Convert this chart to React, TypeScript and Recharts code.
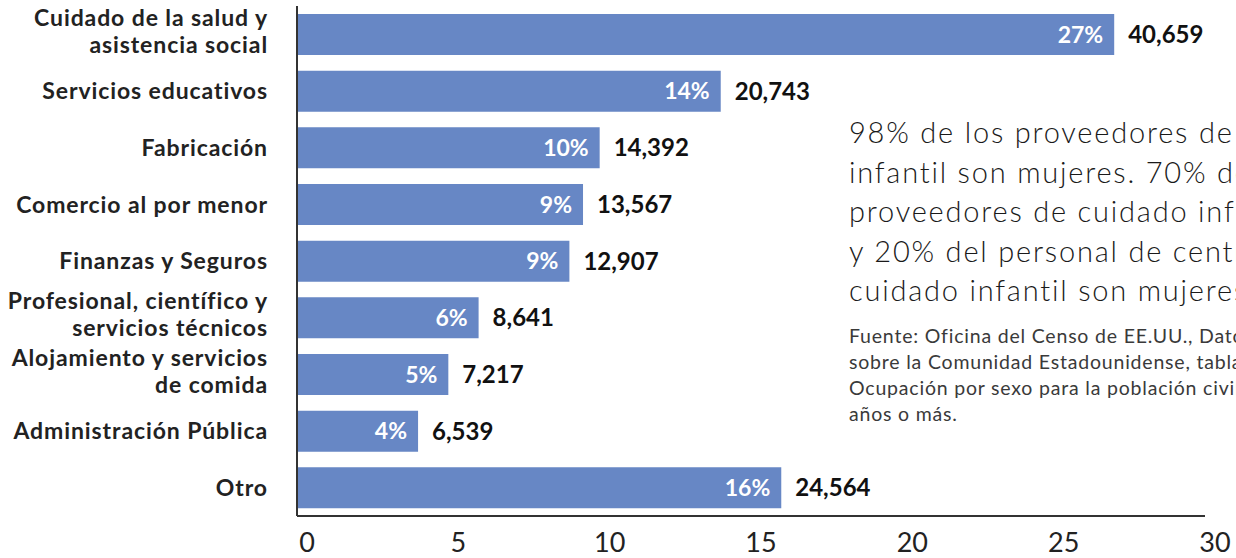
import { BarChart, Bar, XAxis, YAxis, LabelList } from 'recharts';

const categories = [
  'Cuidado de la salud y\nasistencia social',
  'Servicios educativos',
  'Fabricación',
  'Comercio al por menor',
  'Finanzas y Seguros',
  'Profesional, científico y\nservicios técnicos',
  'Alojamiento y servicios\nde comida',
  'Administración Pública',
  'Otro',
];
const shares = [27, 14, 10, 9.45, 9, 6, 5, 4, 16];
const workers = [40659, 20743, 14392, 13567, 12907, 8641, 7217, 6539, 24564];
const xTicks = [0, 5, 10, 15, 20, 25, 30];

const noteLines = [
  '98% de los proveedores de cuidado',
  'infantil son mujeres. 70% de los',
  'proveedores de cuidado infantil',
  'y 20% del personal de centros de',
  'cuidado infantil son mujeres.',
];
const sourceLines = [
  'Fuente: Oficina del Censo de EE.UU., Datos',
  'sobre la Comunidad Estadounidense, tabla',
  'Ocupación por sexo para la población civil de 16',
  'años o más.',
];

const data = categories.map((name, i) => ({
  name,
  share: shares[i],
  workers: workers[i],
}));

const FONT = 'Lato, "Open Sans", sans-serif';
const BAR = '#6787c5';

function CategoryTick(props: any) {
  const { x, y, payload } = props;
  const lines: string[] = String(payload.value).split('\n');
  const lh = 27;
  const start = lines.length > 1 ? -lh / 2 - 3 : 0;
  return (
    <text
      x={x}
      y={y}
      textAnchor="end"
      fontFamily={FONT}
      fontWeight={700}
      fontSize={23}
      letterSpacing={0.9}
      fill="#222"
    >
      {lines.map((l, i) => (
        <tspan key={i} x={x} y={y + start + i * lh} dy="0.36em">
          {l}
        </tspan>
      ))}
    </text>
  );
}

export default function App() {
  return (
    <div
      style={{
        position: 'absolute',
        left: 0,
        top: 0,
        width: 1236,
        height: 558,
        overflow: 'hidden',
        background: '#fff',
      }}
    >
      <BarChart
        width={1236}
        height={558}
        data={data}
        layout="vertical"
        margin={{ top: 6, right: 31, left: 0, bottom: 0 }}
        barSize={41}
      >
        <XAxis
          type="number"
          domain={[0, 30]}
          ticks={xTicks}
          height={42}
          axisLine={{ stroke: '#333', strokeWidth: 2 }}
          tickLine={false}
          tickMargin={11}
          tick={{ fontSize: 27, fill: '#222', fontFamily: FONT, dx: 10 }}
          interval={0}
        />
        <YAxis
          type="category"
          dataKey="name"
          width={297}
          axisLine={{ stroke: '#333', strokeWidth: 2 }}
          tickLine={false}
          tickMargin={23}
          tick={<CategoryTick />}
          interval={0}
        />
        <Bar dataKey="share" fill={BAR} isAnimationActive={false}>
          <LabelList
            dataKey="share"
            position="insideRight"
            offset={11}
            formatter={(v: any) => `${Math.round(Number(v))}%`}
            fill="#fff"
            fontFamily={FONT}
            fontWeight={700}
            fontSize={23}
          />
          <LabelList
            dataKey="workers"
            position="right"
            offset={14}
            formatter={(v: any) => Number(v).toLocaleString('en-US')}
            fill="#111"
            fontFamily={FONT}
            fontWeight={700}
            fontSize={24}
          />
        </Bar>
      </BarChart>
      <svg
        width={1236}
        height={558}
        style={{ position: 'absolute', left: 0, top: 0, pointerEvents: 'none' }}
      >
        {noteLines.map((l, i) => (
          <text
            key={l}
            x={849}
            y={143 + i * 39.5}
            fontFamily={FONT}
            fontWeight={300}
            fontSize={29}
            letterSpacing={1.8}
            fill="#1a1a1a"
          >
            {l}
          </text>
        ))}
        {sourceLines.map((l, i) => (
          <text
            key={l}
            x={849}
            y={343 + i * 26}
            fontFamily={FONT}
            fontWeight={400}
            fontSize={19.5}
            letterSpacing={0.8}
            fill="#3a3a3a"
          >
            {l}
          </text>
        ))}
      </svg>
    </div>
  );
}
